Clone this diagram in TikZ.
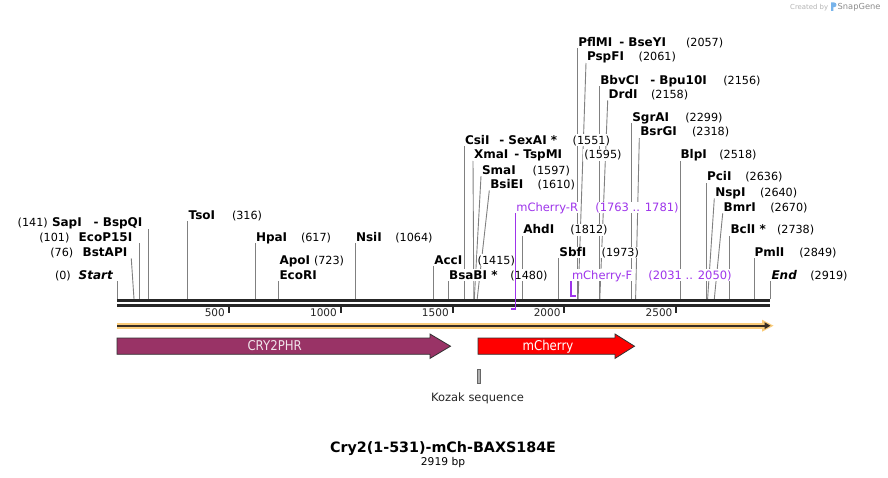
\documentclass[tikz,border=0pt]{standalone}
\usepackage{fontspec}
\setmainfont{DejaVu Sans}
\newfontfamily\featfont[FakeStretch=0.87]{DejaVu Sans}
\usetikzlibrary{arrows.meta}
\pgfdeclarelayer{bg}
\pgfdeclarelayer{lines}
\pgfsetlayers{bg,lines,main}
\definecolor{sitecol}{RGB}{128,128,128}
\definecolor{bbcol}{RGB}{38,38,38}
\definecolor{primcol}{RGB}{158,52,235}
\definecolor{orangecol}{RGB}{250,204,122}
\definecolor{dircol}{RGB}{55,45,35}
\definecolor{crycol}{RGB}{153,51,102}
\definecolor{mchcol}{RGB}{255,0,0}
\definecolor{featline}{RGB}{50,50,50}
\definecolor{crytext}{RGB}{240,228,234}
\definecolor{credgray}{RGB}{180,180,180}
\definecolor{snapgray}{RGB}{140,140,140}
\definecolor{logoblue}{RGB}{120,180,235}
\definecolor{kozakfill}{RGB}{175,175,175}
\begin{document}
\begin{tikzpicture}[x=1pt,y=-1pt,
  lbl/.style={anchor=base west, inner sep=1pt, outer sep=0pt, fill=white, text height=8.8pt, text depth=1pt},
  enz/.style={lbl, font=\fontsize{12}{14}\selectfont\bfseries},
  num/.style={lbl, font=\fontsize{11.2}{13}\selectfont},
  endpt/.style={lbl, font=\fontsize{12}{14}\selectfont\bfseries\itshape},
  prim/.style={lbl, font=\fontsize{11.5}{13}\selectfont, text=primcol},
  site/.style={draw=sitecol, line width=0.9pt},
  primline/.style={draw=primcol, line width=1.3pt},
  primfoot/.style={draw=primcol, line width=2pt},
  bb/.style={draw=bbcol, line width=2.7pt},
  tickmark/.style={draw=bbcol, line width=2pt},
  ticklbl/.style={anchor=base east, inner sep=0pt, font=\fontsize{10.5}{12}\selectfont, text=bbcol},
  feat/.style={draw=featline, line width=0.8pt},
  feattext/.style={anchor=base, inner sep=0pt, font=\featfont\fontsize{13.5}{15}\selectfont}
]
\useasboundingbox (0,0) rectangle (888,478);
\begin{pgfonlayer}{bg}
\fill[white] (0,0) rectangle (888,478);
\end{pgfonlayer}

% credit
\node[anchor=base west, inner sep=0pt, font=\fontsize{6.9}{8}\selectfont, text=credgray] (cred) at (790,9.2) {Created by};
\fill[logoblue] (831,11) -- (831,2.5) -- (834.2,2.5) .. controls (837.2,2.5) and (837.2,7.2) .. (834.2,7.2) -- (833.4,7.2) -- (833.4,11) -- cycle;
\node[anchor=base west, inner sep=0pt, font=\fontsize{8.3}{9}\selectfont, text=snapgray] (snap) at (837.5,9.6) {SnapGene};

% site coordinates on the backbone
\coordinate (sStart) at (117,299);
\coordinate (sBstAPI) at (134.0,299);
\coordinate (sEcoP15I) at (139.6,299);
\coordinate (sSapI) at (148.5,299);
\coordinate (sTsoI) at (187.7,299);
\coordinate (sHpaI) at (255.0,299);
\coordinate (sEcoRI) at (278.7,299);
\coordinate (sNsiI) at (355.0,299);
\coordinate (sAccI) at (433.5,299);
\coordinate (sBsaBI) at (448.1,299);
\coordinate (sCsiI) at (464.0,299);
\coordinate (sXmaI) at (473.8,299);
\coordinate (sSmaI) at (474.3,299);
\coordinate (sBsiEI) at (477.2,299);
\coordinate (sAhdI) at (522.4,299);
\coordinate (sSbfI) at (558.4,299);
\coordinate (sPflMI) at (577.2,299);
\coordinate (sPspFI) at (578.1,299);
\coordinate (sBbvCI) at (599.3,299);
\coordinate (sDrdI) at (599.8,299);
\coordinate (sSgrAI) at (631.3,299);
\coordinate (sBsrGI) at (635.6,299);
\coordinate (sBlpI) at (680.3,299);
\coordinate (sPciI) at (706.7,299);
\coordinate (sNspI) at (707.6,299);
\coordinate (sBmrI) at (714.3,299);
\coordinate (sBclI) at (729.5,299);
\coordinate (sPmlI) at (754.3,299);
\coordinate (sEnd) at (770,299);
\coordinate (pR) at (511.4,308.5);
\coordinate (pF) at (575.6,296);

% left-side labels
\node[num] (kSapI) at (16.7,226.9) {(141)};
\node[enz] (nSapI) at (51,226.9) {SapI};
\node[enz] (mSapI) at (92.7,226.9) {- BspQI};
\node[num] (kEcoP15I) at (38.3,241.2) {(101)};
\node[enz] (nEcoP15I) at (77.7,241.2) {EcoP15I};
\node[num] (kBstAPI) at (49.3,256.4) {(76)};
\node[enz] (nBstAPI) at (81.7,256.4) {BstAPI};
\node[num] (kStart) at (54,279) {(0)};
\node[endpt] (nStart) at (77.7,279) {Start};

% right-side labels
\node[enz] (nTsoI) at (187.7,219.2) {TsoI};
\node[num] (kTsoI) at (231,219.2) {(316)};
\node[enz] (nHpaI) at (255,241.2) {HpaI};
\node[num] (kHpaI) at (300,241.2) {(617)};
\node[enz] (nApoI) at (278.5,264.2) {ApoI};
\node[num] (kApoI) at (313,264.2) {(723)};
\node[enz] (nEcoRI) at (278.5,279) {EcoRI};
\node[enz] (nNsiI) at (355,241.2) {NsiI};
\node[num] (kNsiI) at (394.3,241.2) {(1064)};
\node[enz] (nAccI) at (433.3,264.2) {AccI};
\node[num] (kAccI) at (476.7,264.2) {(1415)};
\node[enz] (nBsaBI) at (448.1,279) {BsaBI *};
\node[num] (kBsaBI) at (509.3,279) {(1480)};
\node[enz] (nCsiI) at (464,144.2) {CsiI};
\node[enz] (mCsiI) at (498.3,144.2) {- SexAI *};
\node[num] (kCsiI) at (571.7,144.2) {(1551)};
\node[enz] (nXmaI) at (473,158.8) {XmaI};
\node[enz] (mXmaI) at (513.3,158.8) {- TspMI};
\node[num] (kXmaI) at (583.3,158.8) {(1595)};
\node[enz] (nSmaI) at (481,174.2) {SmaI};
\node[num] (kSmaI) at (531.7,174.2) {(1597)};
\node[enz] (nBsiEI) at (489.3,188.5) {BsiEI};
\node[num] (kBsiEI) at (536.7,188.5) {(1610)};
\node[enz] (nAhdI) at (522.4,234) {AhdI};
\node[num] (kAhdI) at (569.3,234) {(1812)};
\node[enz] (nSbfI) at (558.4,256.4) {SbfI};
\node[num] (kSbfI) at (600.7,256.4) {(1973)};
\node[enz] (nPflMI) at (577.3,46.5) {PflMI};
\node[enz] (mPflMI) at (618.3,46.5) {- BseYI};
\node[num] (kPflMI) at (685,46.5) {(2057)};
\node[enz] (nPspFI) at (586,60.9) {PspFI};
\node[num] (kPspFI) at (637.7,60.9) {(2061)};
\node[enz] (nBbvCI) at (599.3,84.2) {BbvCI};
\node[enz] (mBbvCI) at (649.3,84.2) {- Bpu10I};
\node[num] (kBbvCI) at (722.3,84.2) {(2156)};
\node[enz] (nDrdI) at (607.7,98.5) {DrdI};
\node[num] (kDrdI) at (650,98.5) {(2158)};
\node[enz] (nSgrAI) at (631.3,121.5) {SgrAI};
\node[num] (kSgrAI) at (684.3,121.5) {(2299)};
\node[enz] (nBsrGI) at (639.3,135.9) {BsrGI};
\node[num] (kBsrGI) at (691,135.9) {(2318)};
\node[enz] (nBlpI) at (679.5,158.8) {BlpI};
\node[num] (kBlpI) at (718.3,158.8) {(2518)};
\node[enz] (nPciI) at (706,180.9) {PciI};
\node[num] (kPciI) at (744.3,180.9) {(2636)};
\node[enz] (nNspI) at (714.3,196.5) {NspI};
\node[num] (kNspI) at (759,196.5) {(2640)};
\node[enz] (nBmrI) at (722.7,211.4) {BmrI};
\node[num] (kBmrI) at (769.3,211.4) {(2670)};
\node[enz] (nBclI) at (729.5,234) {BclI *};
\node[num] (kBclI) at (776,234) {(2738)};
\node[enz] (nPmlI) at (753.5,256.4) {PmlI};
\node[num] (kPmlI) at (798.3,256.4) {(2849)};
\node[endpt] (nEnd) at (770.5,279) {End};
\node[num] (kEnd) at (809.3,279) {(2919)};

% primer labels
\node[prim] (nMchR) at (515.4,211.4) {mCherry-R};
\node[prim] (kMchR) at (594.3,211.4) {(1763 .. 1781)};
\node[prim] (nMchF) at (571,279) {mCherry-F};
\node[prim] (kMchF) at (647.3,279) {(2031 .. 2050)};

% connector lines (behind the labels)
\begin{pgfonlayer}{lines}
\draw[site] (sSapI) -- (sSapI |- mSapI.south);
\draw[site] (sEcoP15I) -- (sEcoP15I |- nEcoP15I.south);
\draw[site] ([xshift=3pt]nBstAPI.south east) -- (sBstAPI);
\draw[site] (sStart) -- (sStart |- nStart.south);
\draw[site] (sTsoI) -- (sTsoI |- nTsoI.south);
\draw[site] (sHpaI) -- (sHpaI |- nHpaI.south);
\draw[site] (sEcoRI) -- (sEcoRI |- nEcoRI.south);
\draw[site] (sNsiI) -- (sNsiI |- nNsiI.south);
\draw[site] (sAccI) -- (sAccI |- nAccI.south);
\draw[site] (sBsaBI) -- (sBsaBI |- nBsaBI.south);
\draw[site] (sCsiI) -- (sCsiI |- nCsiI.south);
\draw[site] (nXmaI.south west) -- (sXmaI);
\draw[site] (nSmaI.south west) -- (sSmaI);
\draw[site] (nBsiEI.south west) -- (sBsiEI);
\draw[site] (sAhdI) -- (sAhdI |- nAhdI.south);
\draw[site] (sSbfI) -- (sSbfI |- nSbfI.south);
\draw[site] (sPflMI) -- (sPflMI |- nPflMI.south);
\draw[site] (nPspFI.south west) -- (sPspFI);
\draw[site] (sBbvCI) -- (sBbvCI |- nBbvCI.south);
\draw[site] (nDrdI.south west) -- (sDrdI);
\draw[site] (sSgrAI) -- (sSgrAI |- nSgrAI.south);
\draw[site] (nBsrGI.south west) -- (sBsrGI);
\draw[site] (sBlpI) -- (sBlpI |- nBlpI.south);
\draw[site] (sPciI) -- (sPciI |- nPciI.south);
\draw[site] (nNspI.south west) -- (sNspI);
\draw[site] (nBmrI.south west) -- (sBmrI);
\draw[site] (sBclI) -- (sBclI |- nBclI.south);
\draw[site] (sPmlI) -- (sPmlI |- nPmlI.south);
\draw[site] (sEnd) -- (sEnd |- nEnd.south);
\end{pgfonlayer}

% backbone
\draw[bb] (117,300.3) -- (770,300.3);
\draw[bb] (117,305.3) -- (770,305.3);

% ticks
\draw[tickmark] (228.9,305) -- (228.9,313);
\draw[tickmark] (340.7,305) -- (340.7,313);
\draw[tickmark] (452.6,305) -- (452.6,313);
\draw[tickmark] (564.4,305) -- (564.4,313);
\draw[tickmark] (676.3,305) -- (676.3,313);
\node[ticklbl] (t500) at (225,316.3) {500};
\node[ticklbl] (t1000) at (337,316.3) {1000};
\node[ticklbl] (t1500) at (448.9,316.3) {1500};
\node[ticklbl] (t2000) at (560.7,316.3) {2000};
\node[ticklbl] (t2500) at (672.6,316.3) {2500};

% direction arrow
\draw[draw=orangecol, line width=6pt] (117,325.7) -- (764,325.7);
\fill[orangecol] (762,319.7) -- (773.5,325.7) -- (762,331.7) -- cycle;
\draw[draw=dircol, line width=2pt, -{Triangle[length=6pt,width=6.5pt]}] (117,325.7) -- (770.5,325.7);

% features
\draw[feat, fill=crycol] (117,338) -- (430,338) -- (430,334) -- (450.5,346.2) -- (430,358.4) -- (430,354.3) -- (117,354.3) -- cycle;
\node[feattext, text=crytext] (fCry) at (274.7,350.3) {CRY2PHR};
\draw[feat, fill=mchcol] (478,338) -- (615,338) -- (615,334) -- (634.5,346.2) -- (615,358.4) -- (615,354.3) -- (478,354.3) -- cycle;
\node[feattext, text=white] (fMch) at (548,350.3) {mCherry};

% Kozak
\draw[draw=gray!80!black, fill=kozakfill, line width=0.6pt] (477.6,369.5) rectangle (480.2,383.3);
\node[anchor=base, inner sep=0pt, font=\fontsize{11.5}{13}\selectfont, text=black!85] (kozak) at (477.5,401) {Kozak sequence};

% primers (on top)
\draw[primline] (nMchR.south west) -- (nMchR.south west |- pR);
\draw[primfoot] ([xshift=0.6pt]nMchR.south west |- pR) -- (pR);
\draw[primfoot] (nMchF.south west) -- (nMchF.south west |- pF) -- (pF);

% title
\node[anchor=base, inner sep=0pt, font=\fontsize{14.3}{16}\selectfont\bfseries] (title) at (443,452.5) {Cry2(1-531)-mCh-BAXS184E};
\node[anchor=base, inner sep=0pt, font=\fontsize{10.7}{12}\selectfont] (bp) at (443,465.5) {2919 bp};
\end{tikzpicture}
\end{document}
